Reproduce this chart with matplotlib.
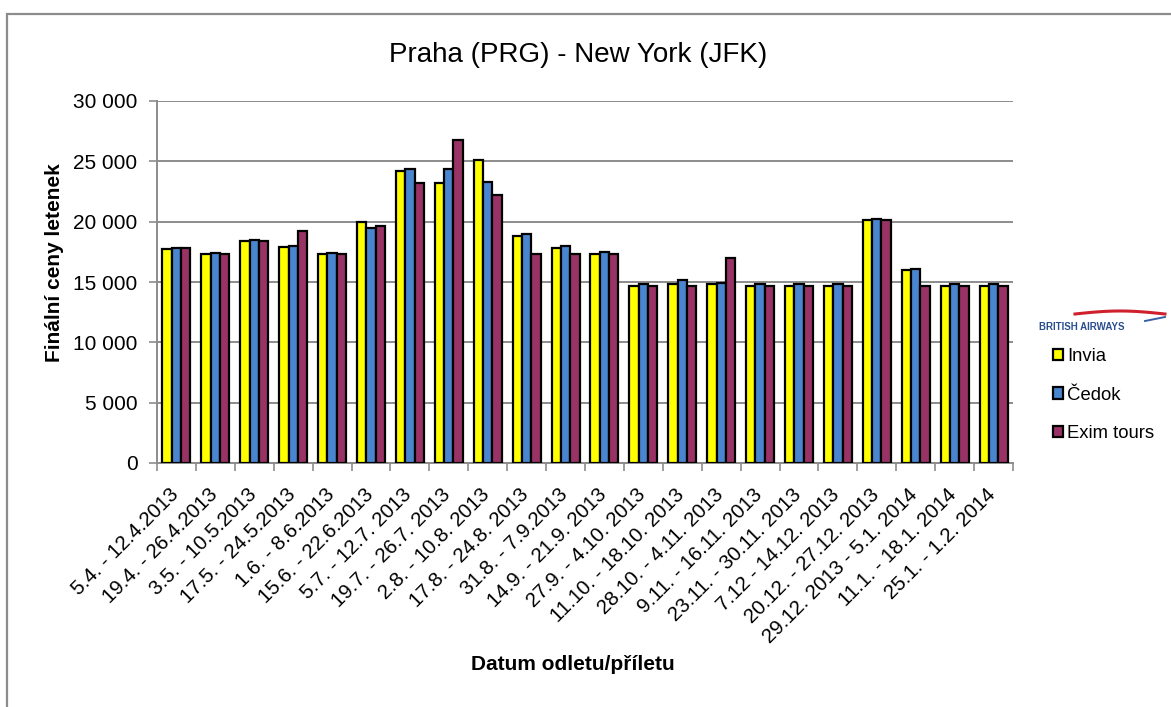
import numpy as np
import matplotlib.pyplot as plt
from matplotlib.patches import Rectangle
from matplotlib.transforms import blended_transform_factory, ScaledTranslation

plt.rcParams['font.family'] = ['Liberation Sans', 'DejaVu Sans']

terminy = ["5.4. - 12.4.2013", "19.4. - 26.4.2013", "3.5. - 10.5.2013",
           "17.5. - 24.5.2013", "1.6. - 8.6.2013", "15.6. - 22.6.2013",
           "5.7. - 12.7. 2013", "19.7. - 26.7. 2013", "2.8. - 10.8. 2013",
           "17.8. - 24.8. 2013", "31.8. - 7.9.2013", "14.9. - 21.9. 2013",
           "27.9. - 4.10. 2013", "11.10. - 18.10. 2013", "28.10. - 4.11. 2013",
           "9.11. - 16.11. 2013", "23.11. - 30.11. 2013", "7.12 - 14.12. 2013",
           "20.12. - 27.12. 2013", "29.12. 2013 - 5.1. 2014", "11.1. - 18.1. 2014",
           "25.1. - 1.2. 2014"]
invia = [17700, 17300, 18400, 17900, 17300, 20000, 24200, 23200, 25100, 18800, 17800,
         17300, 14700, 14800, 14800, 14700, 14700, 14700, 20100, 16000, 14700, 14700]
cedok = [17800, 17400, 18500, 18000, 17400, 19500, 24400, 24400, 23300, 19000, 18000,
         17500, 14800, 15200, 14900, 14800, 14800, 14800, 20200, 16100, 14800, 14800]
exim = [17800, 17300, 18400, 19200, 17300, 19600, 23200, 26800, 22200, 17300, 17300,
        17300, 14700, 14700, 17000, 14700, 14700, 14700, 20100, 14700, 14700, 14700]

serie = [("Invia", invia, "#FFFF00"), ("Čedok", cedok, "#4A86CF"),
         ("Exim tours", exim, "#993366")]

fig = plt.figure(figsize=(11.71, 7.07), dpi=100)
W, H = 1171, 707
ax = fig.add_axes([157 / W, 1 - 463 / H, (1013 - 157) / W, (463 - 101) / H])

x = np.arange(len(terminy))
w = 0.24
for i, (name, vals, col) in enumerate(serie):
    ax.bar(x + (i - 1) * w, vals, w, color=col, edgecolor="black", linewidth=1.6,
           label=name, zorder=3)

ax.set_xlim(-0.5, len(terminy) - 0.5)
ax.set_ylim(0, 30000)
ax.set_yticks(np.arange(0, 30001, 5000))
ax.set_yticklabels([f"{v:,}".replace(",", " ") for v in range(0, 30001, 5000)])
ax.yaxis.grid(True, color="#8c8c8c", linewidth=1.4, zorder=0)
ax.set_axisbelow(True)

ax.set_xticks(np.arange(-0.5, len(terminy), 1))
ax.set_xticklabels([])
ax.tick_params(axis="x", length=6, color="#8c8c8c", width=1.2)
ax.tick_params(axis="y", length=6, color="#8c8c8c", width=1.2, labelsize=15, pad=8)

# rotated category labels, right end just under each group
trans = blended_transform_factory(ax.transData, ax.transAxes) + \
    ScaledTranslation(-1 / 100, -29 / 100, fig.dpi_scale_trans)
for xi, lab in zip(x, terminy):
    ax.text(xi, 0, lab, transform=trans, rotation=45, ha="right", va="center",
            rotation_mode="anchor", fontsize=14.7)

for s in ["top", "right"]:
    ax.spines[s].set_visible(False)
for s in ["left", "bottom"]:
    ax.spines[s].set_color("#8c8c8c")
    ax.spines[s].set_linewidth(1.4)

fig.text(578 / W, 1 - 62 / H, "Praha (PRG) - New York (JFK)", ha="center", va="baseline",
         fontsize=20)
fig.text(55 / W, 1 - 263 / H, "Finální ceny letenek", ha="center", va="center",
         rotation=90, fontsize=15, fontweight="bold")
fig.text(573 / W, 1 - 670 / H, "Datum odletu/příletu", ha="center", va="baseline",
         fontsize=15, fontweight="bold")

# outer chart frame
fig.patches.append(Rectangle((7 / W, -0.01), 1.02, 1 - 14 / H + 0.01,
                             transform=fig.transFigure, fill=False,
                             edgecolor="#8c8c8c", linewidth=1.6))

# airline logo
fig.text(1039 / W, 1 - 330 / H, "BRITISH AIRWAYS", ha="left", va="baseline", fontsize=7,
         fontweight="bold", color="#2A4E8F")
t = np.linspace(0, 1, 40)
fig.add_artist(plt.Line2D((1075 + 90 * t) / W, 1 - (314 - 3 * np.sin(np.pi * t)) / H,
                          color="#D0202E", linewidth=2.2, transform=fig.transFigure))
fig.add_artist(plt.Line2D((1145 + 20 * t) / W, 1 - (321 - 4 * t) / H,
                          color="#3A5FA8", linewidth=1.4, transform=fig.transFigure))

handles, labels = ax.get_legend_handles_labels()
fig.legend(handles, labels, loc="center left", bbox_to_anchor=(1053 / W, 1 - 395 / H),
           frameon=False, fontsize=13.3, handlelength=0.55, handleheight=0.55,
           handletextpad=0.2, labelspacing=1.15, borderpad=0, borderaxespad=0)

fig.savefig("out.png", dpi=100)
